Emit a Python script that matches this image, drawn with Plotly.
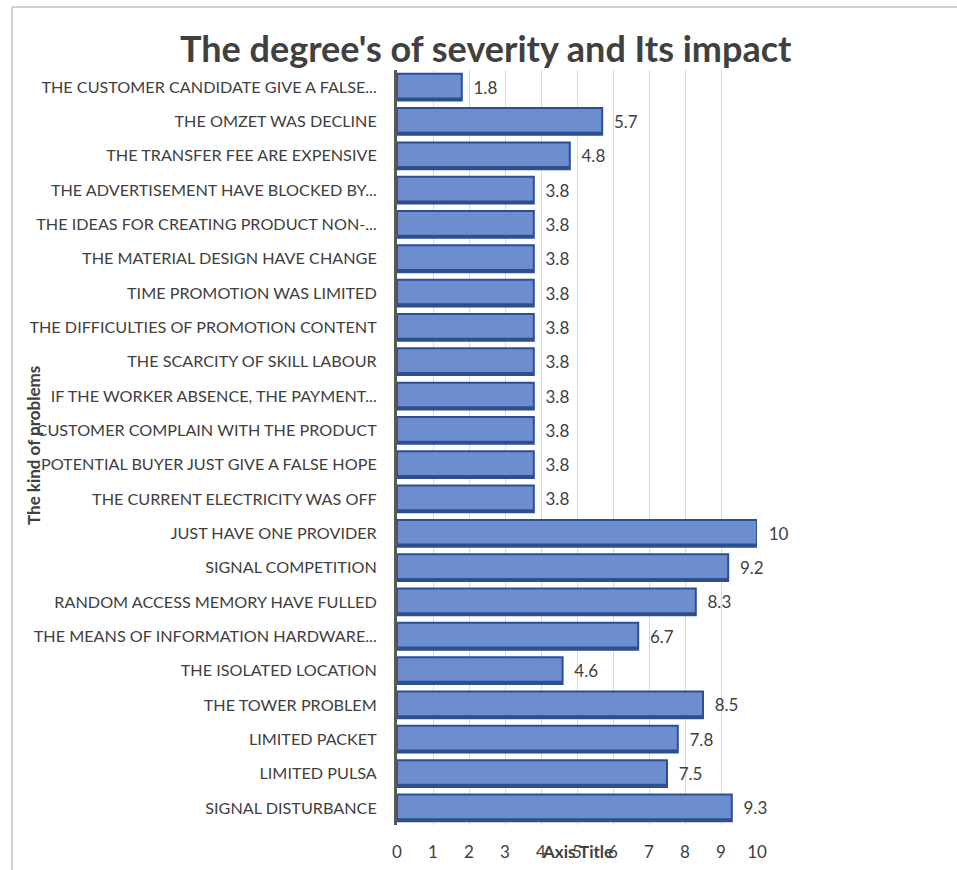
import plotly.graph_objects as go

categories = [
    "SIGNAL DISTURBANCE",
    "LIMITED PULSA",
    "LIMITED PACKET",
    "THE TOWER PROBLEM",
    "THE ISOLATED LOCATION",
    "THE MEANS OF INFORMATION HARDWARE...",
    "RANDOM ACCESS MEMORY HAVE FULLED",
    "SIGNAL COMPETITION",
    "JUST HAVE ONE PROVIDER",
    "THE CURRENT ELECTRICITY WAS OFF",
    "POTENTIAL BUYER JUST GIVE A FALSE HOPE",
    "CUSTOMER COMPLAIN WITH THE PRODUCT",
    "IF THE WORKER ABSENCE, THE PAYMENT...",
    "THE SCARCITY OF SKILL LABOUR",
    "THE DIFFICULTIES OF PROMOTION CONTENT",
    "TIME PROMOTION WAS LIMITED",
    "THE MATERIAL DESIGN HAVE CHANGE",
    "THE IDEAS FOR CREATING PRODUCT NON-...",
    "THE ADVERTISEMENT HAVE BLOCKED BY...",
    "THE TRANSFER FEE ARE EXPENSIVE",
    "THE OMZET WAS DECLINE",
    "THE CUSTOMER CANDIDATE GIVE A FALSE...",
]
values = [9.3, 7.5, 7.8, 8.5, 4.6, 6.7, 8.3, 9.2, 10, 3.8, 3.8, 3.8, 3.8, 3.8,
          3.8, 3.8, 3.8, 3.8, 3.8, 4.8, 5.7, 1.8]
x_ticks = list(range(0, 11))

title_text = "The degree's of severity and Its impact"
y_title = "The kind of problems"
x_title = "Axis Title"

W, H = 957, 870
L, R, T, B = 397, 200, 70, 45
pw, ph = W - L - R, H - T - B

def px(xp):
    return (xp - L) / pw

def py(yp):
    return (H - B - yp) / ph

FONT = "Lato"
TXT = "#404040"
BW = 0.78

fig = go.Figure()
# main bars
fig.add_trace(go.Bar(
    x=values, y=categories, orientation="h",
    width=BW, offset=-BW / 2,
    marker=dict(color="#6d8dcf", line=dict(color="#2a4f94", width=2)),
    text=["\u00a0\u00a0" + (str(v) if v % 1 else str(int(v))) for v in values],
    textposition="outside", cliponaxis=False,
    textfont=dict(family=FONT, size=17, color=TXT),
    hoverinfo="skip",
))
# darker bottom edge (3D look)
fig.add_trace(go.Bar(
    x=values, y=categories, orientation="h",
    width=0.09, offset=-BW / 2,
    marker=dict(color="#2d4f8e", line=dict(width=0)),
    hoverinfo="skip",
))

fig.update_layout(
    width=W, height=H,
    margin=dict(l=L, r=R, t=T, b=B, autoexpand=False),
    paper_bgcolor="white", plot_bgcolor="white",
    showlegend=False, barmode="overlay",
    font=dict(family=FONT, color=TXT),
    xaxis=dict(range=[0, 10], tickvals=x_ticks, showgrid=True, automargin=False,
               gridcolor="#d9d9d9", gridwidth=1, zeroline=False,
               ticks="", ticklabelstandoff=15,
               tickfont=dict(family=FONT, size=17, color=TXT)),
    yaxis=dict(type="category", categoryorder="array", categoryarray=categories,
               showgrid=False, showline=True, linecolor="#595959", linewidth=3,
               ticks="", ticklabelstandoff=14, automargin=False,
               tickfont=dict(family=FONT, size=16.2, color=TXT)),
    annotations=[
        dict(text="<b>" + title_text + "</b>", xref="paper", yref="paper",
             x=px(486), y=py(48), xanchor="center", yanchor="middle",
             showarrow=False, font=dict(family=FONT, size=36, color=TXT)),
        dict(text="<b>" + y_title + "</b>", xref="paper", yref="paper",
             x=px(33), y=py(446), xanchor="center", yanchor="middle",
             textangle=-90, showarrow=False,
             font=dict(family=FONT, size=17, color=TXT)),
        dict(text="<b>" + x_title + "</b>", xref="paper", yref="paper",
             x=px(577), y=py(851), xanchor="center", yanchor="middle",
             showarrow=False, font=dict(family=FONT, size=17, color=TXT)),
    ],
    shapes=[
        dict(type="line", xref="paper", yref="paper", x0=px(12), x1=px(12),
             y0=py(7), y1=py(870), line=dict(color="#d0d0d0", width=2)),
        dict(type="line", xref="paper", yref="paper", x0=px(12), x1=px(957),
             y0=py(7), y1=py(7), line=dict(color="#d0d0d0", width=2)),
    ],
)

fig.write_html("out.html")
